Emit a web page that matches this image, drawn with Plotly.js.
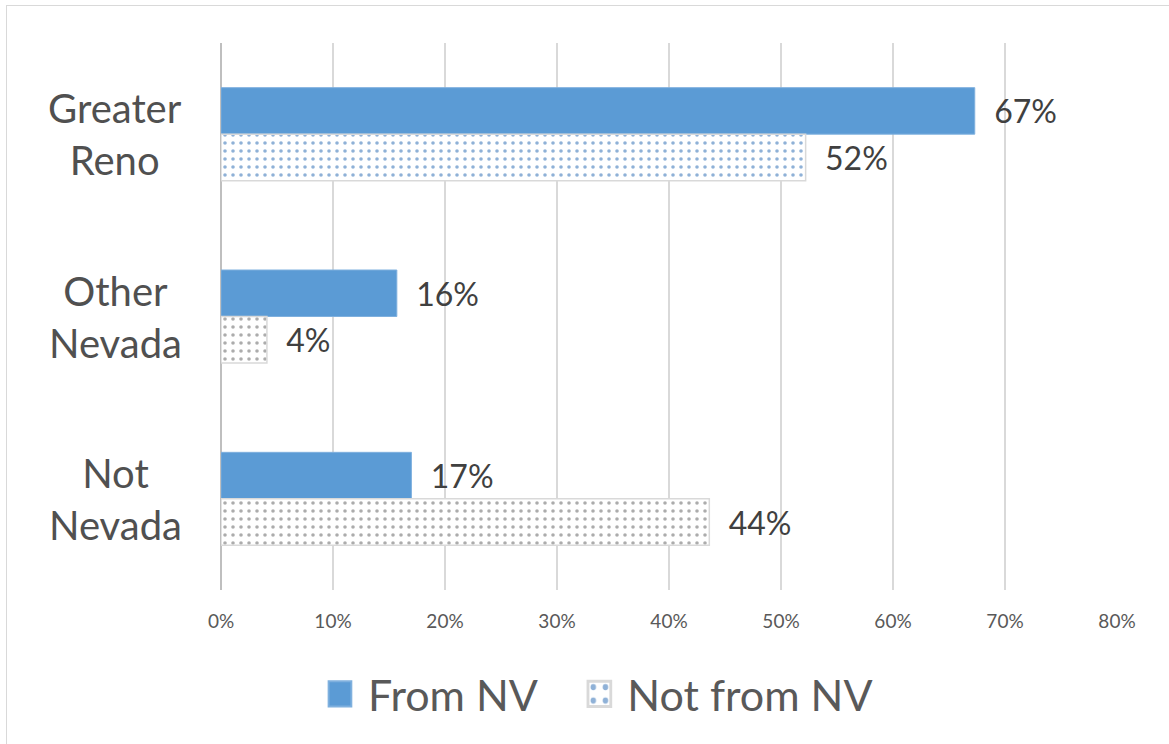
<!DOCTYPE html>
<html>
<head>
<meta charset="utf-8">
<script src="https://cdn.plot.ly/plotly-3.0.1.min.js"></script>
<style>
  html, body { margin: 0; padding: 0; background: #fff; }
  #chart { width: 1169px; height: 744px; }
  #frame { position: absolute; left: 6px; top: 5px; width: 1180px; height: 760px; border: 1px solid #d9d9d9; pointer-events: none; }
</style>
</head>
<body>
<div id="chart"></div>
<div id="frame"></div>
<script>
const categories = ['Greater Reno', 'Other Nevada', 'Not Nevada'];
const categoryLabels = ['Greater<br>Reno', 'Other<br>Nevada', 'Not<br>Nevada'];
const fromNV = [0.673, 0.157, 0.170];
const notFromNV = [0.522, 0.041, 0.436];
const seriesNames = ['From NV', 'Not from NV'];
const tickVals = [0, 0.1, 0.2, 0.3, 0.4, 0.5, 0.6, 0.7, 0.8];
const tickText = ['0%', '10%', '20%', '30%', '40%', '50%', '60%', '70%', '80%'];
const dotColors = ['#1f64b0', '#5a5a5a', '#5a5a5a'];

const font = 'Lato, "Open Sans", sans-serif';
const pad = '\u00a0\u00a0';

const traces = [
  {
    type: 'bar', orientation: 'h', name: seriesNames[0], legend: 'legend',
    y: categories, x: fromNV,
    marker: { color: '#5b9bd5', line: { color: '#7fb0de', width: 1 } },
    texttemplate: pad + '%{x:.0%}', textposition: 'outside',
    textfont: { family: font, size: 32, color: '#404040' },
    cliponaxis: false, hoverinfo: 'x+y'
  },
  {
    type: 'bar', orientation: 'h', name: seriesNames[1], legend: 'legend2',
    y: categories, x: notFromNV,
    marker: {
      color: '#ffffff',
      line: { color: '#d9d9d9', width: 1.5 },
      pattern: { shape: '.', fgcolor: dotColors, bgcolor: '#ffffff', size: 8, solidity: 0.16, fillmode: 'overlay' }
    },
    texttemplate: pad + '%{x:.0%}', textposition: 'outside',
    textfont: { family: font, size: 32, color: '#404040' },
    cliponaxis: false, hoverinfo: 'x+y'
  }
];

const annotations = categories.map((c, i) => ({
  xref: 'paper', yref: 'y', x: -0.118, y: c,
  text: categoryLabels[i], showarrow: false,
  xanchor: 'center', yanchor: 'middle', align: 'center',
  font: { family: font, size: 40, color: '#505050' }
}));

const legendBase = {
  orientation: 'h', y: -0.19, xanchor: 'left', yanchor: 'middle',
  font: { family: font, size: 43, color: '#595959' },
  itemwidth: 42, bgcolor: 'rgba(0,0,0,0)'
};

const layout = {
  width: 1169, height: 744,
  margin: { l: 221, r: 52, t: 43, b: 154 },
  paper_bgcolor: '#ffffff', plot_bgcolor: '#ffffff',
  barmode: 'group', bargap: 0.49, bargroupgap: 0,
  showlegend: true,
  legend: Object.assign({}, legendBase, { x: 0.106 }),
  legend2: Object.assign({}, legendBase, { x: 0.3955 }),
  xaxis: {
    range: [0, 0.8], tickvals: tickVals, ticktext: tickText,
    showgrid: true, gridcolor: '#d9d9d9', gridwidth: 1.5,
    zeroline: true, zerolinecolor: '#bfbfbf', zerolinewidth: 2,
    showline: false, ticks: '', ticklabelstandoff: 18,
    tickfont: { family: font, size: 19, color: '#595959' },
    fixedrange: true
  },
  yaxis: {
    autorange: 'reversed', type: 'category',
    showticklabels: false, showgrid: false, zeroline: false, showline: false, ticks: '',
    fixedrange: true
  },
  annotations: annotations
};

Plotly.newPlot('chart', traces, layout, { displayModeBar: false, staticPlot: true }).then(gd => {
  // enlarge legend swatches to match the reference
  gd.querySelectorAll('.legendpoints path').forEach(p => {
    const t = p.getAttribute('transform') || '';
    p.setAttribute('transform', t + ' translate(-2,0) scale(1.9,2.1)');
    // legend swatch of the dotted series uses gray dots, as in the reference
    const fill = p.style.fill || '';
    const m = fill.match(/#([^"')]+)/);
    if (m) {
      const pat = document.getElementById(m[1]);
      if (pat) pat.querySelectorAll('path, circle').forEach(el => {
        if (el.style.fill && el.style.fill !== 'rgb(255, 255, 255)') el.style.fill = '#7a7a7a';
      });
    }
  });
});
</script>
</body>
</html>
